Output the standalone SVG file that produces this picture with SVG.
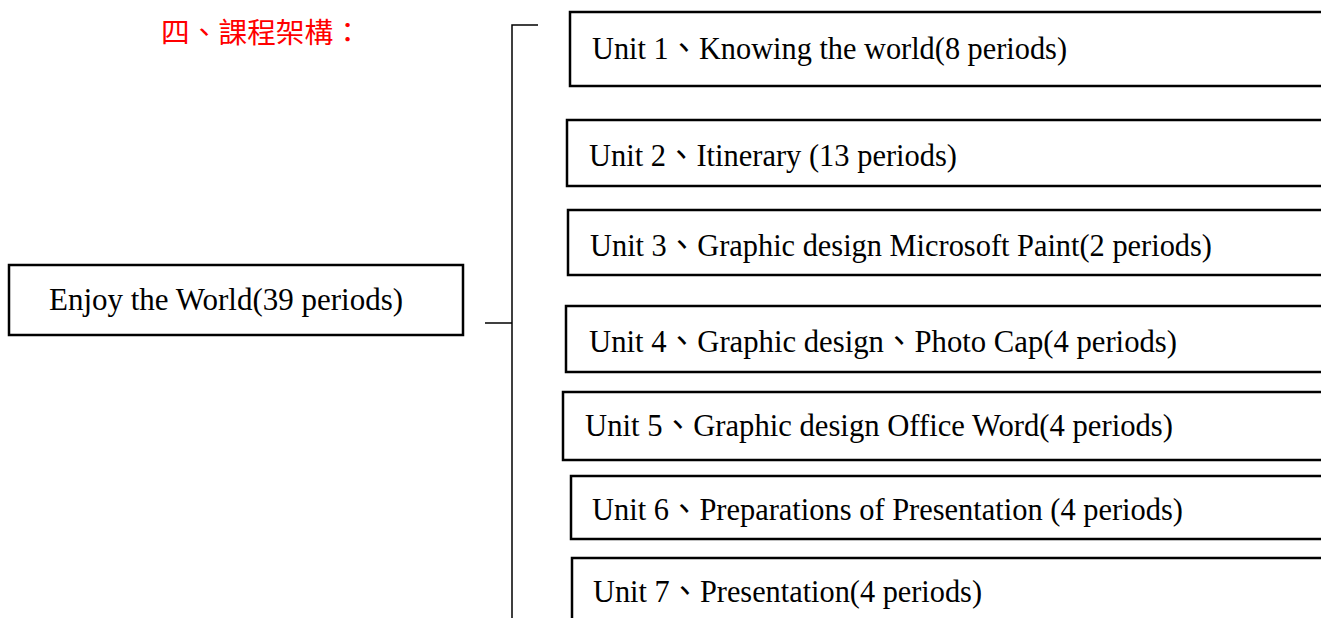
<svg xmlns="http://www.w3.org/2000/svg" width="1321" height="618" viewBox="0 0 1321 618">
<style>
.box{fill:#fff;stroke:#000;stroke-width:2.5}
.t{font-family:"Liberation Serif","Noto Sans CJK TC",serif;font-size:32px;fill:#000}
.con{fill:none;stroke:#000;stroke-width:1.5}
.title{font-family:"Noto Sans CJK TC",serif;font-size:28px;fill:#ff0000}
</style>
<rect width="1321" height="618" fill="#fff"/>
<text class="title" x="161" y="43" textLength="201" lengthAdjust="spacingAndGlyphs">四、課程架構：</text>
<g id="connectors">
<polyline class="con" points="538,25 512,25 512,618"/>
<line class="con" x1="485" y1="323" x2="512" y2="323"/>
</g>
<g id="root">
<rect class="box" x="9" y="265" width="454" height="70"/>
<text class="t" x="49" y="310" textLength="354" lengthAdjust="spacingAndGlyphs">Enjoy the World(39 periods)</text>
</g>
<g id="unit1">
<rect class="box" x="570" y="12" width="770" height="74"/>
<text class="t" x="592" y="59" textLength="475" lengthAdjust="spacingAndGlyphs">Unit 1、Knowing the world(8 periods)</text>
</g>
<g id="unit2">
<rect class="box" x="567" y="120" width="770" height="66"/>
<text class="t" x="589" y="166" textLength="368" lengthAdjust="spacingAndGlyphs">Unit 2、Itinerary (13 periods)</text>
</g>
<g id="unit3">
<rect class="box" x="568" y="210" width="770" height="65"/>
<text class="t" x="590" y="256" textLength="622" lengthAdjust="spacingAndGlyphs">Unit 3、Graphic design Microsoft Paint(2 periods)</text>
</g>
<g id="unit4">
<rect class="box" x="566" y="306" width="770" height="66"/>
<text class="t" x="589" y="352" textLength="588" lengthAdjust="spacingAndGlyphs">Unit 4、Graphic design、Photo Cap(4 periods)</text>
</g>
<g id="unit5">
<rect class="box" x="563" y="392" width="770" height="68"/>
<text class="t" x="585" y="436" textLength="588" lengthAdjust="spacingAndGlyphs">Unit 5、Graphic design Office Word(4 periods)</text>
</g>
<g id="unit6">
<rect class="box" x="571" y="476" width="770" height="63"/>
<text class="t" x="592" y="520" textLength="591" lengthAdjust="spacingAndGlyphs">Unit 6、Preparations of Presentation (4 periods)</text>
</g>
<g id="unit7">
<rect class="box" x="572" y="558" width="770" height="80"/>
<text class="t" x="593" y="602" textLength="389" lengthAdjust="spacingAndGlyphs">Unit 7、Presentation(4 periods)</text>
</g>
</svg>
